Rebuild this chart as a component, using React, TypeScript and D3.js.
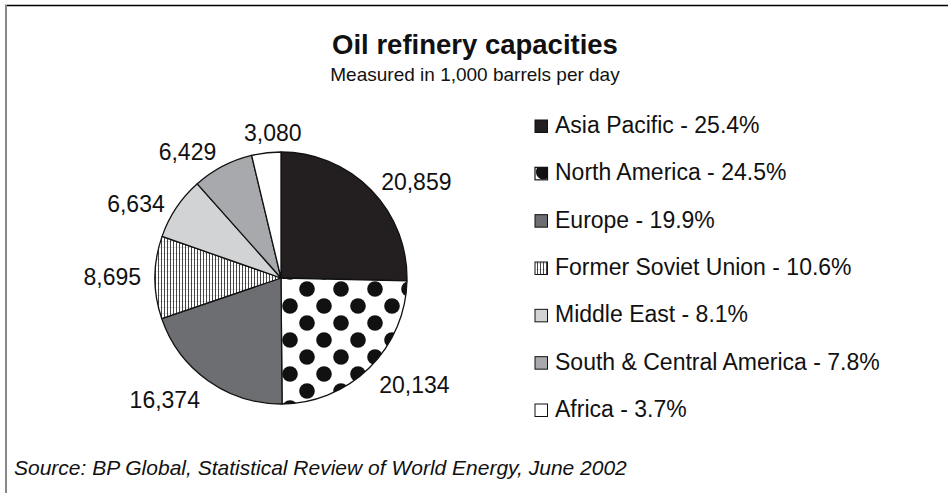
import React from "react";
import * as d3 from "d3";

const regions = ["Asia Pacific", "North America", "Europe", "Former Soviet Union", "Middle East", "South & Central America", "Africa"];
const capacities = [20859, 20134, 16374, 8695, 6634, 6429, 3080];
const shares = ["25.4%", "24.5%", "19.9%", "10.6%", "8.1%", "7.8%", "3.7%"];
const fills = ["#231f20", "url(#dots)", "#6d6e71", "url(#vstripes)", "#d1d3d4", "#a7a9ac", "#ffffff"];

const W = 950;
const H = 493;
const cx = 281;
const cy = 278;
const R = 126;
const FONT = "'Liberation Sans', Arial, Helvetica, sans-serif";

export default function App() {
  const data = regions.map((name, i) => ({ name, value: capacities[i], share: shares[i], i }));
  const pie = d3.pie<any>().value((d: any) => d.value).sort(null).startAngle(0).endAngle(2 * Math.PI);
  const arcs = pie(data);
  const arc = d3.arc<any>().innerRadius(0).outerRadius(R);
  const fmt = d3.format(",");

  const legendY = d3.scaleLinear().domain([0, regions.length - 1]).range([133, 417]);
  const lx = 535;
  const ls = 12.5;

  return (
    <div style={{ position: "fixed", left: 0, top: 0, margin: 0 }}>
      <svg width={W} height={H} style={{ display: "block", background: "#fff" }}>
        <defs>
          <pattern id="dots" patternUnits="userSpaceOnUse" x={315} y={300} width={34} height={34}>
            <rect width={34} height={34} fill="#fff" />
            <circle cx={0} cy={0} r={7.8} fill="#111" />
            <circle cx={34} cy={0} r={7.8} fill="#111" />
            <circle cx={0} cy={34} r={7.8} fill="#111" />
            <circle cx={34} cy={34} r={7.8} fill="#111" />
            <circle cx={17} cy={17} r={7.8} fill="#111" />
          </pattern>
          <pattern id="vstripes" patternUnits="userSpaceOnUse" width={3} height={6}>
            <rect width={3} height={6} fill="#fff" />
            <rect x={0} y={5} width={3} height={1} fill="#ddd" />
            <rect x={0} y={0} width={1} height={6} fill="#444" />
          </pattern>
          <clipPath id="naIconClip">
            <rect x={lx} y={legendY(1) - 13} width={ls} height={ls} />
          </clipPath>
        </defs>

        {/* frame */}
        <line x1={5} y1={5.5} x2={948} y2={5.5} stroke="#000" strokeWidth={1.6} />
        <line x1={6} y1={5} x2={6} y2={H} stroke="#888" strokeWidth={2} />

        {/* titles */}
        <text x={475} y={54} textAnchor="middle" fontFamily={FONT} fontWeight="bold" fontSize={27.5} fill="#111">
          Oil refinery capacities
        </text>
        <text x={475} y={81} textAnchor="middle" fontFamily={FONT} fontSize={19} fill="#111">
          Measured in 1,000 barrels per day
        </text>

        {/* pie */}
        <g transform={`translate(${cx},${cy})`}>
          {arcs.map((a: any, i: number) => (
            <path key={i} d={arc(a) as string} fill={fills[i]} stroke="#111" strokeWidth={1.3} strokeLinejoin="round" />
          ))}
          {arcs.map((a: any, i: number) => {
            const m = (a.startAngle + a.endAngle) / 2;
            const s = Math.sin(m);
            const c = Math.cos(m);
            const rr = R + 14;
            const side = s > 0.25 ? "start" : s < -0.25 ? "end" : "middle";
            const x = side === "middle" ? (rr * s) / 2 : rr * s;
            const dy = c < 0 ? 10 * -c : 30 * (0.8 - c) * c;
            const y = -rr * c + dy;
            return (
              <text key={"l" + i} x={x} y={y} textAnchor={side} dominantBaseline="central" fontFamily={FONT} fontSize={23} fill="#111">
                {fmt(a.data.value)}
              </text>
            );
          })}
        </g>

        {/* legend */}
        {data.map((d, i) => {
          const by = legendY(i);
          const ry = by - 13;
          return (
            <g key={"lg" + i}>
              {i === 1 ? (
                <g>
                  <rect x={lx} y={ry} width={ls} height={ls} fill="#fff" />
                  <circle cx={lx + 8.5} cy={ry + 4.5} r={7.6} fill="#111" clipPath="url(#naIconClip)" />
                  <rect x={lx} y={ry} width={ls} height={ls} fill="none" stroke="#111" strokeWidth={1.2} />
                </g>
              ) : (
                <rect x={lx} y={ry} width={ls} height={ls} fill={fills[i]} stroke="#111" strokeWidth={1} />
              )}
              <text x={555} y={by} fontFamily={FONT} fontSize={23} fill="#111">
                {`${d.name} - ${d.share}`}
              </text>
            </g>
          );
        })}

        {/* source */}
        <text x={14} y={475} fontFamily={FONT} fontStyle="italic" fontSize={21} fill="#111">
          Source: BP Global, Statistical Review of World Energy, June 2002
        </text>
      </svg>
    </div>
  );
}
